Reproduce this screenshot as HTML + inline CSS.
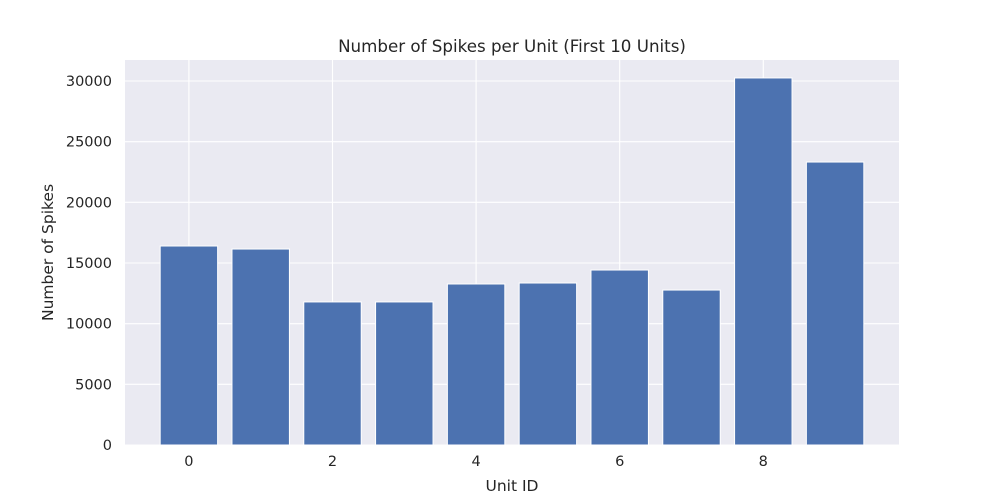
<!DOCTYPE html>
<html><head><meta charset="utf-8"><style>
body{margin:0;background:#fff;}
svg{display:block;font-family:"DejaVu Sans","Liberation Sans",sans-serif;}
</style></head><body>
<svg id="chart" width="1000" height="500"></svg>
<script>
const categories=[0,1,2,3,4,5,6,7,8,9];
const spikeCounts=[16400,16150,11790,11790,13270,13350,14420,12770,30250,23320];
const xTicks=[0,2,4,6,8];
const yTicks=[0,5000,10000,15000,20000,25000,30000];

const L=125,R=899,T=60,B=445;
const xMin=-0.89,xMax=9.89,yMax=31730;
const xs=v=>L+(v-xMin)/(xMax-xMin)*(R-L);
const ys=v=>B-v/yMax*(B-T);
const NS="http://www.w3.org/2000/svg";
const svg=document.getElementById('chart');
function mk(t,a,p){const e=document.createElementNS(NS,t);for(const k in a)e.setAttribute(k,a[k]);(p||svg).appendChild(e);return e;}

const bg=mk('rect',{x:L,y:T,width:R-L,height:B-T,fill:'#eaeaf2'});



xTicks.forEach(t=>{
  const g=mk('line',{x1:xs(t),x2:xs(t),y1:T,y2:B,stroke:'#fff','stroke-width':1.1});
  
  
  const tx=mk('text',{x:xs(t),y:B+21,'text-anchor':'middle','font-size':14.5,fill:'#262626'});
  tx.textContent=t;
  
  
});
yTicks.forEach(t=>{
  const g=mk('line',{x1:L,x2:R,y1:ys(t),y2:ys(t),stroke:'#fff','stroke-width':1.1});
  
  
  const tx=mk('text',{x:L-13,y:ys(t)+5,'text-anchor':'end','font-size':14.5,fill:'#262626'});
  tx.textContent=t;
  
  
});

categories.forEach((c,i)=>{
  const x0=xs(c-0.4),x1=xs(c+0.4);
  const r=mk('rect',{x:x0,y:ys(spikeCounts[i]),width:x1-x0,height:B-ys(spikeCounts[i]),fill:'#4c72b0',stroke:'#fff','stroke-width':1});
  
  
});

const title=mk('text',{x:(L+R)/2,y:52,'text-anchor':'middle','font-size':16.7,fill:'#262626'});
title.textContent='Number of Spikes per Unit (First 10 Units)';


const xl=mk('text',{x:(L+R)/2,y:491,'text-anchor':'middle','font-size':15.5,fill:'#262626'});
xl.textContent='Unit ID';


const yl=mk('text',{x:0,y:0,'text-anchor':'middle','font-size':15.5,fill:'#262626',transform:'translate(53,'+((T+B)/2)+') rotate(-90)'});
yl.textContent='Number of Spikes';


</script>
</body></html>
